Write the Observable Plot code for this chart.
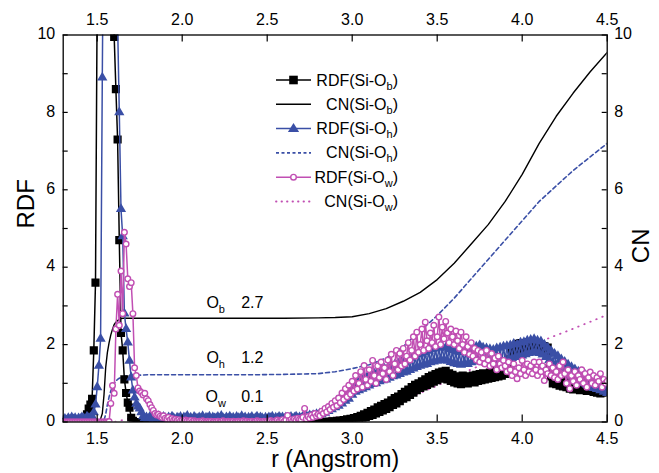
<!DOCTYPE html>
<html><head><meta charset="utf-8">
<script src="https://cdn.jsdelivr.net/npm/d3@7"></script>
<script src="https://cdn.jsdelivr.net/npm/@observablehq/plot@0.6"></script>
<style>body{margin:0;background:#fff}#chart{width:659px;height:473px}</style>
</head><body><div id="chart"></div>
<script>
// RDF grid: r from 1.30 to 4.50, step 0.01
const rStart = 1.30, rStep = 0.01;

const rdfOb = [
0,0,0,0,0,0,0,0,0,0,
0,0.02,0.05,0.1,0.2,0.35,0.45,0.6,1.85,3.6,
11,18,24,28,30,29,26,21,16,13,
9.95,8.6,7.3,4.7,2.3,1.85,1.1,0.75,0.5,0.37,
0.11,0.03,0,0,0,0,0,0,0,0,
0,0,0,0,0,0,0,0,0,0,
0,0,0,0,0,0,0,0,0,0,
0,0,0,0,0,0,0,0,0,0,
0,0,0,0,0,0,0,0,0,0,
0,0,0,0,0,0,0,0,0,0,
0,0,0,0,0,0,0,0,0,0,
0,0,0,0,0,0,0,0,0,0,
0,0,0,0,0,0,0,0,0,0,
0,0,0,0,0,0,0,0,0,0,
0,0,0,0,0,0,0,0,0,0,
0,0,0,0,0,0,0.01,0,0.01,0.01,
0.01,0.03,0.01,0.04,0.02,0.05,0.03,0.07,0.04,0.08,
0.05,0.1,0.06,0.13,0.08,0.16,0.1,0.2,0.12,0.24,
0.16,0.28,0.18,0.32,0.22,0.38,0.26,0.42,0.3,0.46,
0.34,0.5,0.38,0.56,0.44,0.62,0.48,0.66,0.54,0.72,
0.6,0.78,0.64,0.84,0.7,0.9,0.76,0.96,0.82,1.0,
0.88,1.05,0.92,1.1,0.96,1.16,1.0,1.2,1.04,1.24,
1.08,1.28,1.12,1.3,1.14,1.32,1.1,1.26,1.06,1.22,
1.02,1.18,1.0,1.16,0.98,1.2,1.02,1.18,1.0,1.16,
1.04,1.2,1.02,1.22,1.06,1.24,1.08,1.26,1.1,1.24,
1.12,1.28,1.14,1.3,1.16,1.34,1.18,1.36,1.2,1.38,
1.24,1.4,1.35,1.62,1.8,1.95,1.82,2.02,1.86,2.04,
1.86,2.04,1.9,2.06,1.88,2.02,1.86,2.06,1.9,2.0,
1.84,2.0,1.82,1.96,1.78,1.92,1.4,1.18,1.0,1.14,
0.98,1.16,0.94,1.12,0.92,1.1,0.9,1.08,0.86,1.04,
0.84,1.02,0.86,1.0,0.82,0.98,0.84,1.0,0.8,0.96,
0.8,0.96,0.78,0.94,0.76,0.92,0.74,0.9,0.76,0.86,
0.78];

const rdfOh = [
0.05,0.08,0.04,0.1,0.06,0.12,0.07,0.1,0.05,0.09,
0.08,0.12,0.1,0.06,0.14,0.1,0.12,0.15,0.25,0.45,
0.9,1.45,2.15,8.9,15,21,25,26,24,20,
16,13,10.3,8.0,5.5,4.8,2.8,2.4,2.05,1.58,
1.15,0.81,0.63,0.47,0.4,0.35,0.25,0.15,0.1,0.12,
0.08,0.14,0.1,0.06,0.12,0.09,0.15,0.1,0.07,0.13,
0.1,0.06,0.12,0.08,0.14,0.1,0.05,0.11,0.09,0.13,
0.07,0.12,0.1,0.16,0.08,0.11,0.06,0.13,0.1,0.08,
0.12,0.09,0.15,0.07,0.11,0.1,0.14,0.06,0.12,0.09,
0.1,0.13,0.08,0.16,0.1,0.07,0.12,0.09,0.14,0.08,
0.11,0.07,0.13,0.1,0.09,0.15,0.08,0.12,0.06,0.11,
0.09,0.13,0.07,0.1,0.14,0.08,0.12,0.1,0.06,0.11,
0.08,0.12,0.1,0.14,0.07,0.11,0.09,0.13,0.1,0.12,
0.08,0.12,0.07,0.1,0.13,0.08,0.11,0.14,0.09,0.12,
0.1,0.14,0.11,0.15,0.13,0.17,0.14,0.18,0.16,0.2,
0.18,0.22,0.2,0.26,0.24,0.3,0.28,0.35,0.33,0.4,
0.38,0.55,0.42,0.62,0.48,0.7,0.55,0.78,0.6,0.85,
0.7,0.95,0.78,1.05,0.82,1.1,0.86,1.14,0.9,1.18,
0.94,1.22,0.98,1.25,1.0,1.3,1.05,1.34,1.08,1.38,
1.1,1.4,1.14,1.44,1.18,1.48,1.2,1.52,1.24,1.55,
1.28,1.58,1.3,1.62,1.34,1.66,1.38,1.7,1.42,1.74,
1.45,1.76,1.48,1.8,1.5,1.84,1.54,1.88,1.56,1.9,
1.58,1.92,1.6,1.95,1.62,1.92,1.58,1.88,1.55,1.85,
1.52,1.82,1.5,1.8,1.48,1.84,1.52,1.86,1.5,1.88,
1.54,1.9,1.56,1.95,1.6,1.98,1.58,1.92,1.55,1.9,
1.52,1.88,1.5,1.86,1.54,1.9,1.5,1.92,1.56,1.95,
1.6,1.96,1.62,1.98,1.65,2.02,1.68,2.0,1.7,2.05,
1.72,2.06,1.75,2.1,1.78,2.12,1.8,2.14,1.82,2.1,
1.78,2.08,1.74,2.0,1.68,1.92,1.6,1.84,1.52,1.76,
1.45,1.7,1.38,1.62,1.32,1.55,1.25,1.48,1.2,1.42,
1.12,1.36,1.08,1.3,1.04,1.26,1.0,1.22,0.96,1.18,
0.92,1.14,0.88,1.1,0.85,1.05,0.82,1.0,0.78,0.95,
0.75];

const rdfOw = [
0,0,0,0,0,0,0,0,0,0,
0,0,0,0,0,0,0,0,0,0,
0,0,0,0,0,0,0,0.01,0.48,0.94,
0.74,2.4,3.3,2.5,3.9,2.8,4.9,4.6,3.7,3.5,
3.6,2.8,1.4,1.2,0.88,0.8,0.76,0.7,0.74,0.6,
0.55,0.45,0.37,0.3,0.22,0.18,0.2,0.15,0.12,0.16,
0.1,0.08,0.12,0.06,0.09,0.05,0.07,0.04,0.06,0.03,
0.04,0.02,0.05,0.03,0.02,0.04,0.01,0.03,0.02,0.01,
0.02,0.01,0.03,0.01,0,0.02,0.01,0.02,0,0.01,
0.01,0.02,0,0.01,0.03,0.01,0,0.02,0.01,0,
0.02,0,0.01,0.02,0.01,0,0.03,0.01,0.02,0,
0.01,0.02,0,0.01,0.03,0.02,0.01,0,0.02,0.01,
0.02,0.01,0.04,0.02,0.01,0.03,0.05,0.02,0.03,0.06,
0.02,0.05,0.17,0.04,0.06,0.03,0.08,0.05,0.1,0.07,
0.06,0.12,0.35,0.08,0.14,0.1,0.18,0.12,0.22,0.15,
0.2,0.16,0.28,0.22,0.35,0.26,0.4,0.32,0.48,0.38,
0.55,0.42,0.62,0.5,0.75,0.58,0.86,0.65,0.95,0.72,
1.05,0.8,1.2,0.85,1.0,1.3,0.9,1.46,1.1,0.95,
1.35,1.05,1.59,1.2,1.0,1.45,1.15,1.55,1.25,1.4,
1.1,1.6,1.3,1.75,1.2,1.5,1.85,1.35,1.77,1.45,
1.9,1.5,1.7,2.05,1.6,1.85,2.2,1.7,2.32,1.8,
2.0,2.4,1.85,2.58,2.1,1.9,2.3,2.05,2.5,1.95,
2.2,2.71,2.0,2.45,2.15,2.6,2.3,2.05,2.4,2.2,
2.0,2.35,2.1,1.9,2.32,2.0,1.8,2.2,1.95,1.75,
2.05,1.7,1.9,1.6,1.85,1.55,1.8,1.65,1.5,1.85,
1.6,1.45,1.77,1.5,1.65,1.35,1.7,1.5,1.4,1.59,
1.45,1.3,1.55,1.35,1.2,1.5,1.3,1.12,1.4,1.25,
1.59,1.35,1.2,1.5,1.3,1.45,1.25,1.55,1.35,1.2,
1.55,1.3,1.45,1.07,1.35,1.25,1.5,1.2,1.4,1.15,
1.3,1.1,1.45,1.2,1.55,1.25,1.0,1.35,0.86,1.2,
1.05,1.3,0.95,1.2,1.1,1.35,1.0,1.25,0.9,1.15,
1.29,1.0,1.2,0.95,1.15,1.05,1.25,0.9,1.1,1.0,
1.05];

// Coordination numbers
const cnR = [1.30,1.50,1.51,1.52,1.53,1.54,1.55,1.56,1.57,1.58,1.59,1.60,1.61,1.62,1.63,1.64,1.65,1.66,1.67,1.68,
1.70,1.72,1.75,1.80,1.90,2.00,2.20,2.40,2.60,2.80,2.90,
3.00,3.10,3.20,3.30,3.40,3.50,3.60,3.70,3.80,3.90,4.00,4.10,4.20,4.30,4.40,4.50];
const cnOb = [0, 0,0.02,0.08,0.22,0.7,1.41,1.8,2.05,2.25,2.4,2.52,2.58,2.62,2.65,2.67,2.68,2.68,2.68,2.68,
2.68,2.68,2.68,2.68,2.68,2.68,2.68,2.68,2.68,2.69,2.7,
2.72,2.8,2.93,3.12,3.35,3.68,4.1,4.6,5.1,5.7,6.4,7.2,7.9,8.5,9.05,9.55];
const cnOh = [0, 0,0,0,0,0.05,0.2,0.45,0.65,0.8,0.92,1.0,1.06,1.1,1.13,1.15,1.17,1.18,1.19,1.2,
1.2,1.21,1.21,1.22,1.22,1.22,1.22,1.22,1.23,1.25,1.3,
1.38,1.48,1.65,1.95,2.35,2.75,3.2,3.7,4.2,4.7,5.2,5.7,6.1,6.5,6.85,7.2];
const cnOw = [0, 0,0,0,0,0,0,0,0,0,0,0,0.01,0.02,0.03,0.04,0.05,0.06,0.07,0.08,
0.09,0.095,0.1,0.1,0.1,0.1,0.1,0.1,0.1,0.11,0.12,
0.15,0.23,0.38,0.55,0.75,0.94,1.15,1.36,1.55,1.73,1.9,2.07,2.24,2.41,2.59,2.77];

const xTicks = [1.5,2.0,2.5,3.0,3.5,4.0,4.5];
const yTicks = [0,2,4,6,8,10];
const yMinorTicks = [0,1,2,3,4,5,6,7,8,9,10];

const legendNames = ["RDF","CN","RDF","CN","RDF","CN"];
const legendSubs = ["b","b","h","h","w","w"];
const annotSubs = ["b","h","w"];
const annotValues = ["2.7","1.2","0.1"];
const annotY = [2.93,1.51,0.5];
const annotX = 2.2, annotNumX = 2.415;

// styles
const BLUE = "#3a4fa6", PINK = "#c14fb3", FONT = "'Liberation Sans', Arial, sans-serif";
const W = 659, H = 473, mL = 62.7, mR = 52.3, mT = 34.5, mB = 51.5;
const plotW = W - mL - mR, plotH = H - mT - mB;

const grid = vals => vals.map((v, i) => ({r: +(rStart + i * rStep).toFixed(2), v}));
const cnRows = vals => vals.map((v, i) => ({r: cnR[i], v}));
const ob = grid(rdfOb), oh = grid(rdfOh), ow = grid(rdfOw);

const plot = Plot.plot({
  width: W, height: H,
  marginLeft: mL, marginRight: mR, marginTop: mT, marginBottom: mB,
  x: {domain: [1.3, 4.5]},
  y: {domain: [0, 10]},
  style: {fontFamily: FONT, fontSize: "16px", color: "#000", background: "#fff"},
  marks: [
    Plot.line(cnRows(cnOb), {x: "r", y: "v", stroke: "#000", strokeWidth: 1.4, clip: true}),
    Plot.line(cnRows(cnOh), {x: "r", y: "v", stroke: BLUE, strokeWidth: 1.6, strokeDasharray: "4,3", clip: true}),
    Plot.line(cnRows(cnOw), {x: "r", y: "v", stroke: PINK, strokeWidth: 1.8, strokeDasharray: "0.5,6", strokeLinecap: "round", clip: true}),
    Plot.line(ob, {x: "r", y: "v", stroke: "#000", strokeWidth: 1.5, clip: true}),
    Plot.dot(ob, {x: "r", y: "v", symbol: "square", r: 4.6, fill: "#000", clip: true}),
    Plot.line(oh, {x: "r", y: "v", stroke: BLUE, strokeWidth: 1.5, clip: true}),
    Plot.dot(oh, {x: "r", y: "v", symbol: "triangle", r: 3.8, fill: BLUE, clip: true}),
    Plot.line(ow, {x: "r", y: "v", stroke: PINK, strokeWidth: 1.5, clip: true}),
    Plot.dot(ow, {x: "r", y: "v", r: 2.8, fill: "#fff", stroke: PINK, strokeWidth: 1.4, clip: true}),
    Plot.frame({stroke: "#000", strokeWidth: 1.3}),
    Plot.tickX(xTicks, {x: d => d, stroke: "#000", strokeWidth: 1.2, insetTop: plotH - 7}),
    Plot.tickX(xTicks, {x: d => d, stroke: "#000", strokeWidth: 1.2, insetBottom: plotH - 7}),
    Plot.tickY(yMinorTicks, {y: d => d, stroke: "#000", strokeWidth: 1.2, insetRight: plotW - 5}),
    Plot.tickY(yMinorTicks, {y: d => d, stroke: "#000", strokeWidth: 1.2, insetLeft: plotW - 5}),
    Plot.axisX(xTicks, {anchor: "bottom", tickSize: 0, tickPadding: 11, tickFormat: d3.format(".1f"), label: null, fontSize: 16}),
    Plot.axisX(xTicks, {anchor: "top", tickSize: 0, tickPadding: 10, tickFormat: d3.format(".1f"), label: null, fontSize: 16}),
    Plot.axisY(yTicks, {anchor: "left", tickSize: 0, tickPadding: 8, label: null, fontSize: 16, dy: -1}),
    Plot.axisY(yTicks, {anchor: "right", tickSize: 0, tickPadding: 7, label: null, fontSize: 16, dy: -1}),
    Plot.text(["RDF"], {frameAnchor: "left", dx: -37, rotate: -90, fontSize: 24}),
    Plot.text(["CN"], {frameAnchor: "right", dx: 34, rotate: -90, fontSize: 24}),
    Plot.text(["r (Angstrom)"], {frameAnchor: "bottom", dy: 45, fontSize: 23})
  ]
});
document.getElementById("chart").appendChild(plot);

const svg = d3.select(plot);
const xs = plot.scale("x"), ys = plot.scale("y");

// Legend
const legendStyles = [
  {color: "#000", width: 1.5, dash: null, marker: "square"},
  {color: "#000", width: 1.4, dash: null, marker: null},
  {color: BLUE, width: 1.5, dash: null, marker: "triangle"},
  {color: BLUE, width: 1.6, dash: "3,2.5", marker: null},
  {color: PINK, width: 1.5, dash: null, marker: "circle"},
  {color: PINK, width: 1.8, dash: "0.5,5", marker: null}
];
const lg = svg.append("g").attr("font-family", FONT).attr("font-size", 16).attr("fill", "#000");
legendNames.forEach((name, i) => {
  const st = legendStyles[i];
  const y = 80 + i * 24.3;
  lg.append("line").attr("x1", 276).attr("x2", 311).attr("y1", y).attr("y2", y)
    .attr("stroke", st.color).attr("stroke-width", st.width)
    .attr("stroke-dasharray", st.dash).attr("stroke-linecap", st.dash && st.dash.startsWith("0.5") ? "round" : null);
  const cx = 293.5;
  if (st.marker === "square") lg.append("rect").attr("x", cx - 4.3).attr("y", y - 4.3).attr("width", 8.6).attr("height", 8.6).attr("fill", st.color);
  if (st.marker === "triangle") lg.append("path").attr("d", `M${cx},${y - 5.5}L${cx + 5.6},${y + 3.5}L${cx - 5.6},${y + 3.5}Z`).attr("fill", st.color);
  if (st.marker === "circle") lg.append("circle").attr("cx", cx).attr("cy", y).attr("r", 2.8).attr("fill", "#fff").attr("stroke", st.color).attr("stroke-width", 1.4);
  const t = lg.append("text").attr("x", 398).attr("y", y + 5.5).attr("text-anchor", "end");
  t.append("tspan").text(name + "(Si-O");
  t.append("tspan").attr("font-size", 11).attr("dy", 4).text(legendSubs[i]);
  t.append("tspan").attr("dy", -4).text(")");
});

// Annotations of coordination numbers
const an = svg.append("g").attr("font-family", FONT).attr("font-size", 16).attr("fill", "#000");
annotSubs.forEach((s, i) => {
  const y = ys.apply(annotY[i]);
  const t = an.append("text").attr("x", xs.apply(annotX)).attr("y", y);
  t.append("tspan").text("O");
  t.append("tspan").attr("font-size", 11).attr("dy", 5).text(s);
  an.append("text").attr("x", xs.apply(annotNumX)).attr("y", y).text(annotValues[i]);
});
</script>
</body></html>
